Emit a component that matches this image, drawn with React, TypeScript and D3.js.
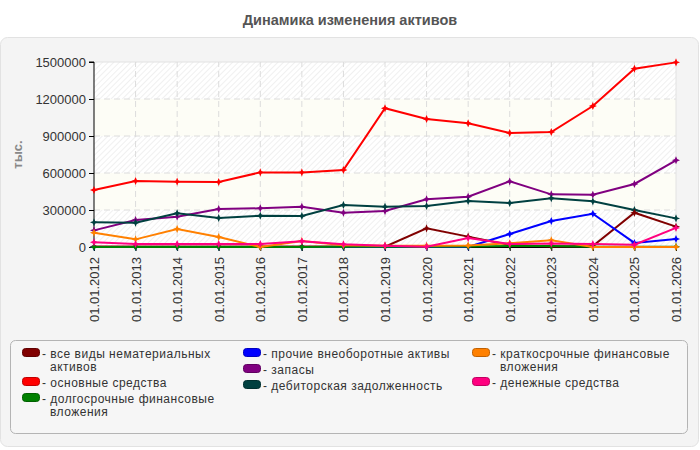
import React, { useRef, useEffect } from "react";
import * as d3 from "d3";

const DATES = [
  "01.01.2012", "01.01.2013", "01.01.2014", "01.01.2015", "01.01.2016",
  "01.01.2017", "01.01.2018", "01.01.2019", "01.01.2020", "01.01.2021",
  "01.01.2022", "01.01.2023", "01.01.2024", "01.01.2025", "01.01.2026",
];
const Y_TICKS = [0, 300000, 600000, 900000, 1200000, 1500000];

const INTANGIBLE = [4000, 4000, 4000, 4000, 4000, 4000, 4000, 3000, 151000, 84000, 16000, 5000, 8000, 278000, 165000];
const FIXED = [462000, 535000, 530000, 527000, 605000, 605000, 624000, 1125000, 1038000, 1003000, 924000, 932000, 1143000, 1446000, 1497000];
const LONG_FIN = [0, 0, 0, 0, 0, 0, 2000, 3000, 3000, 5000, 8000, 8000, 3000, 2000, 2000];
const OTHER_NONCUR = [0, 0, 0, 0, 0, 0, 0, 0, 0, 0, 105000, 211000, 270000, 33000, 65000];
const STOCKS = [135000, 219000, 246000, 308000, 314000, 327000, 278000, 292000, 387000, 408000, 532000, 427000, 424000, 511000, 703000];
const RECEIVABLES = [200000, 197000, 273000, 235000, 254000, 251000, 340000, 327000, 332000, 373000, 357000, 395000, 370000, 300000, 232000];
const SHORT_FIN = [116000, 62000, 146000, 81000, 0, 48000, 15000, 10000, 10000, 12000, 30000, 55000, 0, 0, 0];
const CASH = [38000, 24000, 24000, 24000, 24000, 46000, 22000, 11000, 3000, 72000, 24000, 28000, 24000, 18000, 155000];

const SERIES = [
  { name: "все виды нематериальных\nактивов", color: "#800000", values: INTANGIBLE },
  { name: "основные средства", color: "#ff0000", values: FIXED },
  { name: "долгосрочные финансовые\nвложения", color: "#008000", values: LONG_FIN },
  { name: "прочие внеоборотные активы", color: "#0000ff", values: OTHER_NONCUR },
  { name: "запасы", color: "#800080", values: STOCKS },
  { name: "дебиторская задолженность", color: "#004040", values: RECEIVABLES },
  { name: "краткосрочные финансовые\nвложения", color: "#ff8000", values: SHORT_FIN },
  { name: "денежные средства", color: "#ff0080", values: CASH },
];
// draw order (later on top)
const DRAW_ORDER = [4, 5, 1, 0, 3, 2, 6, 7];
const LEGEND_COLUMNS = [[0, 1, 2], [3, 4, 5], [6, 7]];

// 4-point star marker
const star4: d3.SymbolType = {
  draw(ctx, size) {
    const r = Math.sqrt(size) * 0.9;
    const w = r * 0.3;
    ctx.moveTo(0, -r);
    ctx.lineTo(w, -w);
    ctx.lineTo(r, 0);
    ctx.lineTo(w, w);
    ctx.lineTo(0, r);
    ctx.lineTo(-w, w);
    ctx.lineTo(-r, 0);
    ctx.lineTo(-w, -w);
    ctx.closePath();
  },
};

const W = 700;
const H = 450;

const App: React.FC = () => {
  const svgRef = useRef<SVGSVGElement | null>(null);

  useEffect(() => {
    document.body.style.margin = "0";
    if (!svgRef.current) return;
    const svg = d3.select(svgRef.current);
    svg.selectAll("*").remove();
    const font = "'Liberation Sans', Arial, sans-serif";

    const defs = svg.append("defs");
    const pat = defs
      .append("pattern")
      .attr("id", "hatch")
      .attr("width", 4)
      .attr("height", 4)
      .attr("patternUnits", "userSpaceOnUse")
      .attr("patternTransform", "rotate(45)");
    pat.append("rect").attr("width", 4).attr("height", 4).attr("fill", "#ffffff");
    pat.append("line").attr("x1", 0).attr("y1", 0).attr("x2", 0).attr("y2", 4)
      .attr("stroke", "#ececec").attr("stroke-width", 1.5);

    // title
    svg.append("text")
      .attr("x", W / 2).attr("y", 25)
      .attr("text-anchor", "middle")
      .attr("font-family", font).attr("font-size", 14.5).attr("font-weight", "bold")
      .attr("fill", "#555")
      .text("Динамика изменения активов");

    // panel
    svg.append("rect")
      .attr("x", 0.5).attr("y", 37.5).attr("width", W - 2).attr("height", H - 41)
      .attr("rx", 7).attr("fill", "#f4f4f4").attr("stroke", "#e2e2e2");

    const margin = { left: 94, right: 24, top: 62, bottom: 203 };
    const x = d3.scalePoint<string>().domain(DATES).range([margin.left, W - margin.right]);
    const y = d3.scaleLinear().domain([0, 1500000]).range([H - margin.bottom, margin.top]);

    const g = svg.append("g");

    // background bands
    for (let i = 0; i < Y_TICKS.length - 1; i++) {
      const y0 = y(Y_TICKS[i]);
      const y1 = y(Y_TICKS[i + 1]);
      g.append("rect")
        .attr("x", x(DATES[0])!).attr("y", y1)
        .attr("width", x(DATES[DATES.length - 1])! - x(DATES[0])!)
        .attr("height", y0 - y1)
        .attr("fill", i % 2 === 0 ? "url(#hatch)" : "#fdfdf6");
    }

    // grid
    g.selectAll(".hgrid")
      .data(Y_TICKS.slice(1))
      .join("line")
      .attr("x1", x(DATES[0])!).attr("x2", x(DATES[DATES.length - 1])!)
      .attr("y1", (d) => y(d)).attr("y2", (d) => y(d))
      .attr("stroke", (d, i) => (i === Y_TICKS.length - 2 ? "#e2e2e2" : "#dcdcdc"))
      .attr("stroke-dasharray", (d, i) => (i === Y_TICKS.length - 2 ? null : "6,4"));
    g.selectAll(".vgrid")
      .data(DATES.slice(1))
      .join("line")
      .attr("x1", (d) => x(d)!).attr("x2", (d) => x(d)!)
      .attr("y1", y(0)).attr("y2", y(1500000))
      .attr("stroke", (d, i) => (i === DATES.length - 2 ? "#e2e2e2" : "#dcdcdc"))
      .attr("stroke-dasharray", (d, i) => (i === DATES.length - 2 ? null : "6,4"));

    // y axis
    const yAxis = d3.axisLeft(y).tickValues(Y_TICKS).tickSize(5).tickFormat((v) => `${v}`);
    g.append("g")
      .attr("transform", `translate(${x(DATES[0])},0)`)
      .call(yAxis)
      .call((a) => a.select(".domain").attr("stroke", "#000").attr("d", `M-5,${y(1500000)}H0V${y(0)}`))
      .call((a) => a.selectAll(".tick line").attr("stroke", "#000"))
      .call((a) =>
        a.selectAll(".tick text")
          .attr("font-family", font).attr("font-size", 13).attr("fill", "#333")
          .attr("x", -8)
      );

    // x axis
    const xAxis = d3.axisBottom(x).tickSize(4).tickSizeOuter(0);
    g.append("g")
      .attr("transform", `translate(0,${y(0)})`)
      .call(xAxis)
      .call((a) => a.select(".domain").attr("stroke", "#000"))
      .call((a) => a.selectAll(".tick line").attr("stroke", "#000"))
      .call((a) =>
        a.selectAll(".tick text")
          .attr("font-family", font).attr("font-size", 13).attr("fill", "#333")
          .attr("transform", "rotate(-90)")
          .attr("text-anchor", "end")
          .attr("x", -10).attr("y", 0).attr("dy", "0.35em")
      );

    // y label
    svg.append("text")
      .attr("transform", `translate(22,${(y(0) + y(1500000)) / 2}) rotate(-90)`)
      .attr("text-anchor", "middle")
      .attr("font-family", font).attr("font-size", 13).attr("font-weight", "bold")
      .attr("fill", "#888")
      .text("тыс.");

    // lines
    const line = d3.line<number>()
      .x((_, i) => x(DATES[i])!)
      .y((d) => y(d));
    const sym = d3.symbol().type(star4).size(20);
    DRAW_ORDER.forEach((si) => {
      const s = SERIES[si];
      g.append("path")
        .datum(s.values)
        .attr("d", line)
        .attr("fill", "none")
        .attr("stroke", s.color)
        .attr("stroke-width", 2);
      g.selectAll(`.m-${si}`)
        .data(s.values)
        .join("path")
        .attr("transform", (d, i) => `translate(${x(DATES[i])},${y(d)})`)
        .attr("d", sym)
        .attr("fill", s.color);
    });

    // legend
    svg.append("rect")
      .attr("x", 10.5).attr("y", 340.5).attr("width", 677).attr("height", 93)
      .attr("rx", 5).attr("fill", "#f6f6f6").attr("stroke", "#b4b4b4");
    const colX = [22, 243, 472];
    LEGEND_COLUMNS.forEach((col, ci) => {
      let ty = 358;
      col.forEach((si) => {
        const s = SERIES[si];
        const lines = s.name.split("\n");
        const lg = svg.append("g").attr("transform", `translate(${colX[ci]},${ty})`);
        lg.append("rect")
          .attr("x", 0.5).attr("y", -9.5).attr("width", 17).attr("height", 8)
          .attr("rx", 3).attr("fill", s.color)
          .attr("stroke", d3.color(s.color)!.darker(0.8).toString()).attr("stroke-width", 1);
        const t = lg.append("text")
          .attr("font-family", font).attr("font-size", 12).attr("letter-spacing", 0.5)
          .attr("fill", "#333");
        lines.forEach((ln, li) => {
          t.append("tspan")
            .attr("x", li === 0 ? 20 : 28).attr("y", li * 13)
            .text(li === 0 ? `- ${ln}` : ln);
        });
        ty += lines.length * 13 + 3;
      });
    });
  }, []);

  return <svg ref={svgRef} width={W} height={H} style={{ display: "block" }} />;
};

export default App;
